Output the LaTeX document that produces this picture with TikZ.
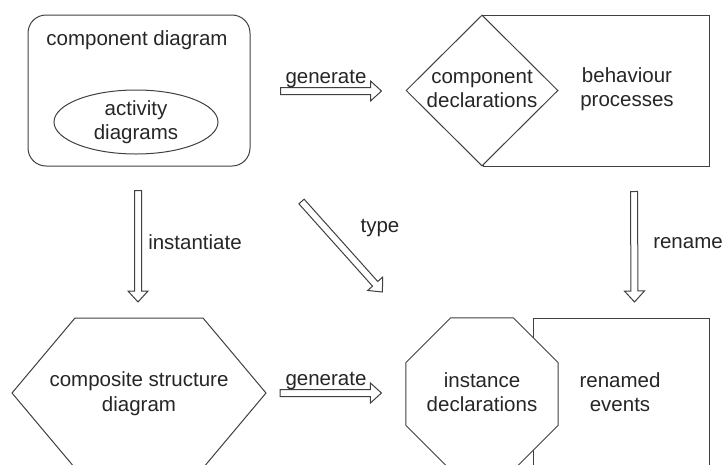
\documentclass[tikz,border=0pt]{standalone}
\usepackage{fontspec}
\setmainfont{Liberation Sans}
\usetikzlibrary{calc,shapes.geometric}
\definecolor{edge}{HTML}{404040}
\definecolor{ink}{HTML}{262626}
\begin{document}
\begin{tikzpicture}[x=1pt,y=-1pt,line width=1pt,
    every node/.style={font=\fontsize{20.5}{24.5}\selectfont, text=ink, align=center, inner sep=0pt},
    outline/.style={draw=edge, fill=white},
    hollow/.style={draw=edge, fill=white, line join=miter, to path={
      ($(\tikztostart)!3.5pt!90:(\tikztotarget)$) --
      ($(\tikztotarget)!11pt!(\tikztostart)!3.5pt!-90:(\tikztostart)$) --
      ($(\tikztotarget)!11pt!(\tikztostart)!10pt!-90:(\tikztostart)$) --
      (\tikztotarget) --
      ($(\tikztotarget)!11pt!(\tikztostart)!10pt!90:(\tikztostart)$) --
      ($(\tikztotarget)!11pt!(\tikztostart)!3.5pt!90:(\tikztostart)$) --
      ($(\tikztostart)!3.5pt!-90:(\tikztotarget)$) -- cycle}}]
    \useasboundingbox (0,0) rectangle (725,464);
    % top row
    \node (compbox) [draw=edge, rounded corners=18pt, minimum width=222pt, minimum height=151pt] at (139,90.5) {};
    \node (complabel) at (137,40) {component diagram};
    \node (activity) [ellipse, draw=edge, minimum width=164pt, minimum height=64pt] at (136,122) {activity\\diagrams};
    \node (procbox) [outline, minimum width=226pt, minimum height=151pt] at (596,90.5) {};
    \node (decl) [diamond, outline, minimum width=152pt, minimum height=151pt] at (482,90.5) {};
    \node (decltext) at (482,89) {component\\declarations};
    \node (proctext) at (627,89) {behaviour\\processes};
    % bottom row
    \coordinate (csdc) at (139,393);
    \draw[outline] ($(csdc)+(-64,-75)$) -- ($(csdc)+(64,-75)$) -- ($(csdc)+(127,0)$)
        -- ($(csdc)+(64,75)$) -- ($(csdc)+(-64,75)$) -- ($(csdc)+(-127,0)$) -- cycle;
    \node (csd) at (139,393.5) {composite structure\\diagram};
    \node (eventbox) [outline, minimum width=176pt, minimum height=170pt, anchor=north west] at (533,318) {};
    \node (inst) [regular polygon, regular polygon sides=8, outline, minimum size=164.6pt] at (482,394) {};
    \node (insttext) at (482,392) {instance\\declarations};
    \node (eventtext) at (620,392) {renamed\\events};
    % arrows
    \draw[hollow] ($(compbox.east)+(30,0.5)$) to ($(decl.west)+(-24,0.5)$);
    \node (gentop) at (326,79) {generate};
    \draw[hollow] ($(compbox.south)+(-1,24)$) to ($(csdc)+(-1,-91)$);
    \node (instlabel) at (195,242) {instantiate};
    \draw[hollow] ($(compbox.south east)+(51,35)$) to ($(inst.west)+(-23,-102)$);
    \node (typelabel) at (380,228) {type};
    \draw[hollow] ($(procbox.south)+(38,25)$) to ($(eventbox.north)+(13,-16)$);
    \node (renamelabel) at (688,243) {rename};
    \draw[hollow] ($(csdc)+(141,0)$) to ($(inst.west)+(-24,-1)$);
    \node (genbottom) at (326,381) {generate};
\end{tikzpicture}
\end{document}
